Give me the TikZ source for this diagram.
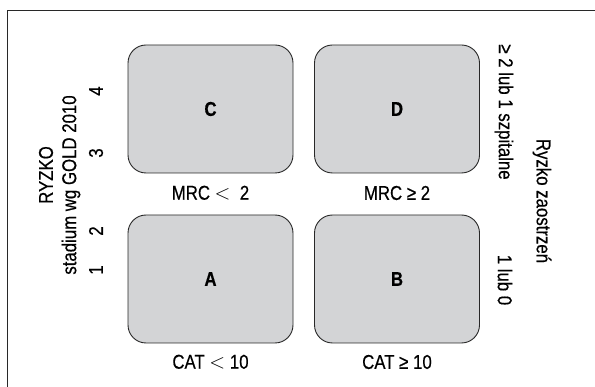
\documentclass[tikz,border=0pt]{standalone}
\usepackage{fontspec}
\setmainfont{Liberation Sans}[FakeStretch=0.84,FakeBold=0.5]
\definecolor{boxfill}{RGB}{211,212,214}
\definecolor{linegray}{RGB}{40,40,40}
\begin{document}
\begin{tikzpicture}[x=1pt,y=-1pt,
  quad/.style={draw=linegray,line width=0.9pt,fill=boxfill,rounded corners=18pt,
    minimum width=165pt,minimum height=128pt,inner sep=0pt,font=\fontsize{20}{24}\selectfont\bfseries},
  lbl/.style={inner sep=0pt,font=\fontsize{20}{24}\selectfont},
  frame/.style={draw=linegray,line width=1pt}]
\useasboundingbox (0,0) rectangle (595,387);
\coordinate (fbl) at (7,387);
\coordinate (ftl) at (7,11);
\coordinate (ftr) at (595,11);
\draw[frame] (fbl) -- (ftl) -- (ftr);
\node[quad] (C) at (210.5,109) {C};
\node[quad] (D) at (397,109) {D};
\node[quad] (A) at (210.5,279) {A};
\node[quad] (B) at (397,279) {B};
\node[lbl] (mrc1) at (210.5,193) {MRC $<$\ \ 2};
\node[lbl] (mrc2) at (397,193) {MRC ≥ 2};
\node[lbl] (cat1) at (210.5,362) {CAT $<$ 10};
\node[lbl] (cat2) at (397,362) {CAT ≥ 10};
\node[lbl,rotate=90] (ryz) at (46,175) {RYZKO};
\node[lbl,rotate=90] (gold) at (71,185) {stadium wg GOLD 2010};
\node[lbl,rotate=90] (n1) at (96,270) {1};
\node[lbl,rotate=90] (n2) at (96,231) {2};
\node[lbl,rotate=90] (n3) at (96,153) {3};
\node[lbl,rotate=90] (n4) at (96,91) {4};
\node[lbl,rotate=-90] (r1) at (504,112) {≥ 2 lub 1 szpitalne};
\node[lbl,rotate=-90] (r2) at (505,280) {1 lub 0};
\node[lbl,rotate=-90] (rz) at (542,201) {Ryzko zaostrzeń};
\end{tikzpicture}
\end{document}
